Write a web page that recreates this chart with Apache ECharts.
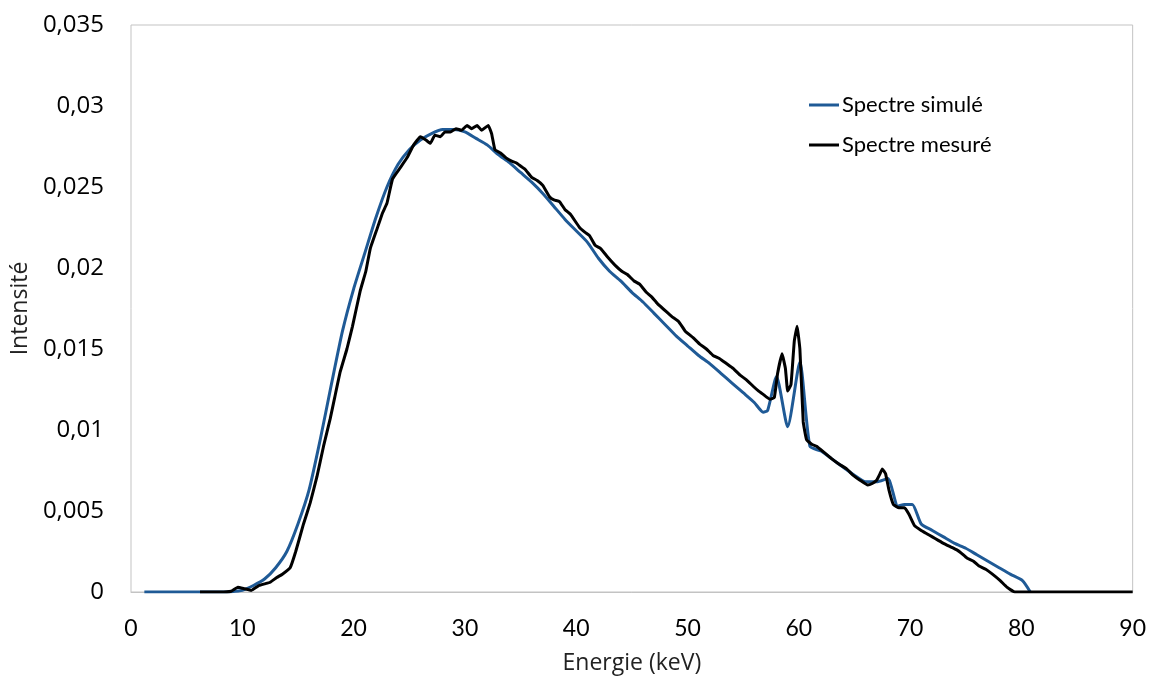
<!DOCTYPE html>
<html>
<head>
<meta charset="utf-8">
<script src="https://cdn.jsdelivr.net/npm/echarts@6/dist/echarts.min.js"></script>
<style>html,body{margin:0;padding:0;background:#fff}#c{width:1149px;height:680px}</style>
</head>
<body>
<div id="c"></div>
<script>
// Spectre simulé: [Energie keV, Intensité]
const simuleE = [1.2,2,4,6,8,9,10,11,12,13,14,15,16,17,18,19,20,21,22,23,24,25,26,27,28,29,30,31,32,33,34,35,36,37,38,39,40,41,42,43,44,45,46,47,48,49,50,51,52,53,54,55,56,56.8,57.2,58.0,59.0,60.1,61.0,62,63,64,65,66,67,68,68.9,69.5,70.2,71,72,73,74,75,76,77,78,79,80.1,80.8];
const simuleI = [0,0,0,0,0,0.00002,0.0001,0.0004,0.0008,0.0015,0.0025,0.0042,0.0063,0.0094,0.0128,0.0161,0.0187,0.0209,0.0231,0.0250,0.0264,0.0273,0.0279,0.0283,0.02855,0.02855,0.0284,0.0280,0.0276,0.0270,0.0265,0.0259,0.0253,0.0246,0.0238,0.0230,0.0223,0.0216,0.0206,0.0198,0.0192,0.0185,0.0179,0.0172,0.0165,0.0158,0.0152,0.0146,0.0141,0.0135,0.0129,0.0123,0.0117,0.0111,0.0112,0.0133,0.0102,0.0142,0.0090,0.0087,0.0082,0.0077,0.0072,0.0068,0.0068,0.0070,0.0053,0.0054,0.0054,0.0042,0.0038,0.0034,0.0030,0.0027,0.0023,0.0019,0.0015,0.0011,0.0007,0];

// Spectre mesuré: [Energie keV, Intensité]
const mesureE = [6.2,7,8,9,9.6,10.2,10.8,11.5,12.0,12.5,13.1,13.6,14.3,14.8,15.5,16.1,16.7,17.3,17.9,18.3,18.8,19.4,19.9,20.6,21.1,21.5,22.1,22.6,23.0,23.5,24.2,24.8,25.4,26.0,26.5,26.9,27.3,27.8,28.2,28.7,29.2,29.7,30.2,30.6,31.1,31.5,32.1,32.4,32.7,33.2,33.7,34.2,34.6,35.0,35.4,36.0,36.5,37.0,37.6,38.0,38.5,39.0,39.5,40.3,40.8,41.2,41.7,42.2,42.8,43.6,44.1,44.6,45.2,45.7,46.3,46.8,47.3,48.1,48.6,49.2,49.8,50.5,51.1,51.7,52.3,52.9,53.5,54.1,54.7,55.3,55.9,56.4,56.8,57.4,57.8,58.1,58.5,58.8,59.0,59.3,59.6,59.85,60.1,60.4,60.7,61.2,61.6,62.3,63.0,63.6,64.3,64.9,65.5,66.2,66.6,67.0,67.3,67.5,67.8,68.1,68.5,69.0,69.5,69.9,70.4,71.0,71.5,72.0,72.5,73.0,73.6,74.2,74.6,75.1,75.7,76.2,76.8,77.4,78.1,78.7,79.4,80,82,84,86,88,90];
const mesureI = [0,0,0,0.00005,0.0003,0.0002,0.0001,0.0004,0.0005,0.0006,0.0009,0.0011,0.0015,0.0025,0.0042,0.0055,0.0071,0.0090,0.0107,0.0120,0.0136,0.0150,0.0164,0.0186,0.0198,0.0212,0.0224,0.0234,0.0240,0.0255,0.0262,0.0268,0.0276,0.0281,0.0279,0.0277,0.0282,0.0281,0.0284,0.0284,0.0286,0.0285,0.0288,0.0286,0.0288,0.0285,0.0288,0.0283,0.0273,0.0271,0.0268,0.0266,0.0265,0.0263,0.0261,0.0256,0.0254,0.0251,0.0244,0.0242,0.0241,0.0236,0.0233,0.0225,0.0222,0.0220,0.0214,0.0212,0.0207,0.0201,0.0198,0.0196,0.0192,0.0190,0.0185,0.0182,0.0178,0.0173,0.0170,0.0167,0.0161,0.0157,0.0153,0.0150,0.0146,0.0144,0.0141,0.0138,0.0134,0.0131,0.0127,0.0124,0.0122,0.0119,0.0120,0.0135,0.0147,0.0138,0.0124,0.0128,0.0155,0.0164,0.0150,0.0105,0.0094,0.0091,0.0090,0.0086,0.0082,0.0079,0.0076,0.0072,0.0069,0.0066,0.0067,0.0069,0.0073,0.0076,0.0073,0.0063,0.0054,0.0052,0.0052,0.0048,0.0041,0.0038,0.0036,0.0034,0.0032,0.0030,0.0028,0.0026,0.0024,0.0021,0.0019,0.0016,0.0014,0.0011,0.0007,0.0003,0,0,0,0,0,0,0];

const seriesNames = ['Spectre simulé', 'Spectre mesuré'];
const xTitle = 'Energie (keV)';
const yTitle = 'Intensité';

const zip = (a, b) => a.map((v, i) => [v, b[i]]);

const chart = echarts.init(document.getElementById('c'), null, {renderer: 'canvas'});
chart.setOption({
  animation: false,
  backgroundColor: '#fff',
  grid: {left: 131, right: 16, top: 25, bottom: 86, show: true, borderColor: '#c3c3c3', borderWidth: 1, containLabel: false},
  legend: {
    orient: 'vertical', left: 804, top: 89, itemGap: 18, itemWidth: 30, itemHeight: 3, icon: 'rect',
    textStyle: {fontFamily: 'Lato', fontSize: 22, color: '#000', padding: [0, 0, 0, -2]},
    data: seriesNames
  },
  xAxis: {
    type: 'value', min: 0, max: 90, interval: 10,
    name: xTitle, nameLocation: 'middle', nameGap: 60,
    nameTextStyle: {fontFamily: 'Open Sans', fontSize: 23, color: '#222'},
    axisLine: {show: true, lineStyle: {color: '#c3c3c3', width: 1}},
    axisTick: {show: false},
    splitLine: {show: false},
    axisLabel: {fontFamily: 'Lato', fontSize: 23, color: '#000', margin: 25}
  },
  yAxis: {
    type: 'value', min: 0, max: 0.035, interval: 0.005,
    name: yTitle, nameLocation: 'middle', nameGap: 97, nameRotate: 90,
    nameTextStyle: {fontFamily: 'Open Sans', fontSize: 23, color: '#222'},
    axisLine: {show: false},
    axisTick: {show: false},
    splitLine: {show: false},
    axisLabel: {fontFamily: 'Open Sans', fontSize: 24, color: '#000', margin: 27,
      formatter: v => (Math.round(v * 1000) / 1000).toString().replace('.', ',')}
  },
  series: [
    {name: seriesNames[0], type: 'line', data: zip(simuleE, simuleI), showSymbol: false, smooth: 0.2,
     lineStyle: {color: '#1f5a96', width: 3}, itemStyle: {color: '#1f5a96'}},
    {name: seriesNames[1], type: 'line', data: zip(mesureE, mesureI), showSymbol: false, smooth: 0.1,
     lineStyle: {color: '#000', width: 3}, itemStyle: {color: '#000'}}
  ]
});
</script>
</body>
</html>
